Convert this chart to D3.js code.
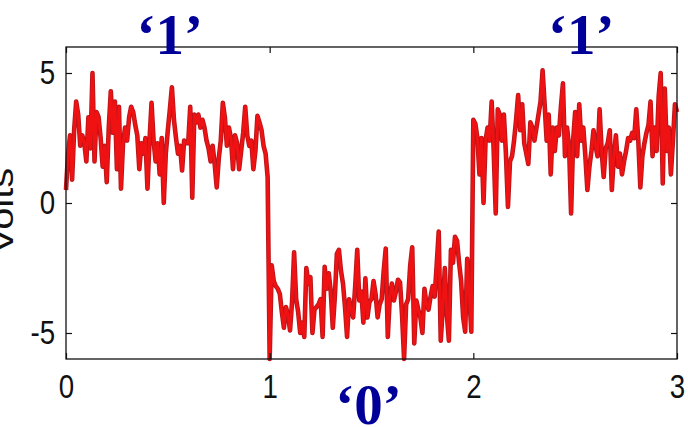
<!DOCTYPE html>
<html>
<head>
<meta charset="utf-8">
<script src="https://cdn.jsdelivr.net/npm/d3@7"></script>
<style>
  body { margin: 0; background: #fff; }
  svg { display: block; }
</style>
</head>
<body>
<svg id="chart" width="688" height="427"></svg>
<script>
// noisy received signal, 100 samples per bit (volts)
var bitOne = [0.5, 1.9, 2.6, 0.9, 2.8, 3.9, 3.4, 2.2, 2.6, 2.3,
              1.6, 3.3, 2.1, 5.0, 1.6, 3.5, 3.3, 2.5, 1.4, 2.2,
              0.8, 2.9, 4.3, 2.7, 3.9, 1.3, 3.7, 0.55, 2.3, 2.9,
              2.4, 3.3, 3.7, 3.5, 3.0, 2.6, 1.3, 2.3, 1.9, 2.5,
              0.55, 2.4, 3.85, 2.4, 1.6, 2.3, 1.1, 2.5, 0.0, 1.9,
              2.8, 3.6, 4.45, 3.2, 2.5, 1.9, 2.2, 1.25, 2.4, 2.3,
              2.3, 3.7, 0.2, 3.4, 3.1, 3.4, 2.9, 3.2, 2.9, 2.4,
              2.1, 1.6, 2.2, 1.5, 0.6, 1.7, 2.4, 3.85, 3.3, 2.2,
              2.9, 2.5, 1.3, 2.6, 2.3, 1.3, 2.0, 2.7, 3.7, 2.6,
              2.2, 2.4, 1.3, 2.0, 3.35, 3.1, 2.8, 2.2, 1.9, 1.0];
var bitZero = [-6.0, -2.4, -3.0, -3.2, -3.3, -3.5, -4.2, -4.8, -4.0, -4.3,
               -4.9, -3.8, -1.9, -3.7, -4.2, -5.0, -4.6, -5.15, -2.5, -3.1,
               -2.85, -5.0, -4.1, -4.0, -3.9, -3.7, -5.15, -2.45, -3.3, -2.7,
               -3.4, -4.8, -3.6, -1.95, -1.8, -2.6, -3.1, -4.0, -5.15, -3.7,
               -4.1, -4.4, -3.2, -1.8, -3.75, -3.4, -4.6, -2.9, -4.4, -3.8,
               -3.7, -3.0, -3.5, -4.4, -3.9, -3.7, -2.6, -1.75, -5.15, -3.6,
               -3.1, -3.75, -3.4, -2.95, -3.05, -4.3, -6.0, -3.9, -3.7, -2.4,
               -1.7, -5.4, -3.75, -4.1, -4.4, -5.0, -3.3, -3.9, -4.1, -3.6,
               -3.2, -3.6, -2.4, -1.1, -5.3, -4.0, -2.5, -4.3, -5.3, -1.8,
               -2.3, -1.3, -1.45, -2.3, -3.0, -4.4, -4.95, -2.15, -3.5, -4.95];
var bitLast = [3.2, 3.05, 2.5, 1.1, 2.5, 0.0, 2.4, 2.9, 2.4, 3.9,
               2.0, -0.4, 3.6, 3.4, 2.4, 3.4, 1.9, -0.15, 1.6, 1.8,
               2.4, 3.2, 4.15, 2.8, 3.8, 2.3, 1.9, 1.5, 3.1, 2.9,
               2.4, 2.9, 3.4, 3.9, 5.1, 3.8, 2.4, 3.4, 1.1, 2.9,
               2.0, 2.9, 2.6, 3.7, 4.6, 1.8, 2.9, 2.2, -0.4, 2.4,
               3.5, 1.8, 3.8, 2.4, 2.9, 1.8, 0.5, 1.4, 2.0, 2.8,
               2.2, 1.8, 3.6, 2.0, 1.0, 2.1, 2.3, 2.8, 0.5, 1.8,
               2.6, 1.4, 1.9, 1.1, 1.6, 2.0, 2.5, 2.4, 2.7, 2.5,
               3.6, 2.4, 0.6, 1.8, 2.3, 2.7, 3.0, 3.9, 1.8, 2.9,
               2.0, 4.1, 5.0, 0.75, 4.4, 2.0, 2.9, 1.1, 2.4, 3.8, 3.5];
var bitLabels = ["\u20181\u2019", "\u20180\u2019", "\u20181\u2019"];
var xTicks = [0, 1, 2, 3];
var yTicks = [-5, 0, 5];
var sampleStep = 0.01;
var yTitle = "Volts";

var svg = d3.select("#chart");
// careful: a global "top" is window.top, so the box edges get their own names
var boxLeft = 66, boxRight = 677, boxTop = 47, boxBottom = 359;
var squeeze = "scale(0.84,1)"; // the picture is a bit narrower than tall

var x = d3.scaleLinear().domain([0, 3]).range([boxLeft, boxRight]);
var y = d3.scaleLinear().domain([-6, 6]).range([boxBottom, boxTop]);

// one trace out of the three bit periods
var points = [];
[bitOne, bitZero, bitLast].forEach(function(seg, k) {
  seg.forEach(function(v, i) {
    points.push({t: k + i * sampleStep, v: v});
  });
});

var line = d3.line()
  .x(function(d) { return x(d.t); })
  .y(function(d) { return y(d.v); });

svg.append("path").datum(points)
  .attr("d", line)
  .attr("fill", "none")
  .attr("stroke", "#b8161b")
  .attr("stroke-width", 4.6)
  .attr("stroke-linejoin", "round");
svg.append("path").datum(points)
  .attr("d", line)
  .attr("fill", "none")
  .attr("stroke", "#f01212")
  .attr("stroke-width", 2.8)
  .attr("stroke-linejoin", "round");

// axes, ticks pointing inwards; plain hyphen for negatives like the original
function plain(d) { return String(d); }

function styleAxis(g) {
  g.select(".domain").remove();
  g.selectAll(".tick line").attr("stroke", "#111").attr("stroke-width", 1.2);
  g.attr("font-family", "'Liberation Sans', Arial, sans-serif")
   .attr("font-size", 33);
  g.selectAll(".tick text").attr("fill", "#111").attr("transform", squeeze);
}

svg.append("g").attr("transform", "translate(" + boxLeft + ",0)")
  .call(d3.axisLeft(y).tickValues(yTicks).tickSizeInner(-6).tickSizeOuter(0).tickPadding(13)
    .tickFormat(plain))
  .call(styleAxis);
svg.append("g").attr("transform", "translate(" + boxRight + ",0)")
  .call(d3.axisRight(y).tickValues(yTicks).tickSizeInner(-6).tickSizeOuter(0).tickFormat(""))
  .call(styleAxis);
svg.append("g").attr("transform", "translate(0," + boxBottom + ")")
  .call(d3.axisBottom(x).tickValues(xTicks).tickSizeInner(-6).tickSizeOuter(0).tickPadding(16)
    .tickFormat(plain))
  .call(styleAxis);
svg.append("g").attr("transform", "translate(0," + boxTop + ")")
  .call(d3.axisTop(x).tickValues(xTicks).tickSizeInner(-6).tickSizeOuter(0).tickFormat(""))
  .call(styleAxis);

svg.append("rect")
  .attr("x", boxLeft).attr("y", boxTop)
  .attr("width", boxRight - boxLeft).attr("height", boxBottom - boxTop)
  .attr("fill", "none")
  .attr("stroke", "#111")
  .attr("stroke-width", 1.3);

svg.append("g")
  .attr("transform", "translate(13," + (y(0) + 8) + ") " + squeeze + " rotate(-90)")
  .append("text")
  .attr("text-anchor", "middle")
  .attr("font-family", "'Liberation Sans', Arial, sans-serif")
  .attr("font-size", 40)
  .attr("fill", "#111")
  .text(yTitle);

// bit values over each period
var nudge = [2, -3, 6];
svg.selectAll("text.bit").data(bitLabels).enter().append("text")
  .attr("class", "bit")
  .attr("x", function(d, k) { return x(k + 0.5) + nudge[k]; })
  .attr("y", function(d) { return d.indexOf("1") >= 0 ? 54 : 424; })
  .attr("text-anchor", "middle")
  .attr("font-family", "'Liberation Serif', 'Times New Roman', serif")
  .attr("font-weight", "bold")
  .attr("font-size", 57)
  .attr("fill", "#000099")
  .text(function(d) { return d; });
</script>
</body>
</html>
